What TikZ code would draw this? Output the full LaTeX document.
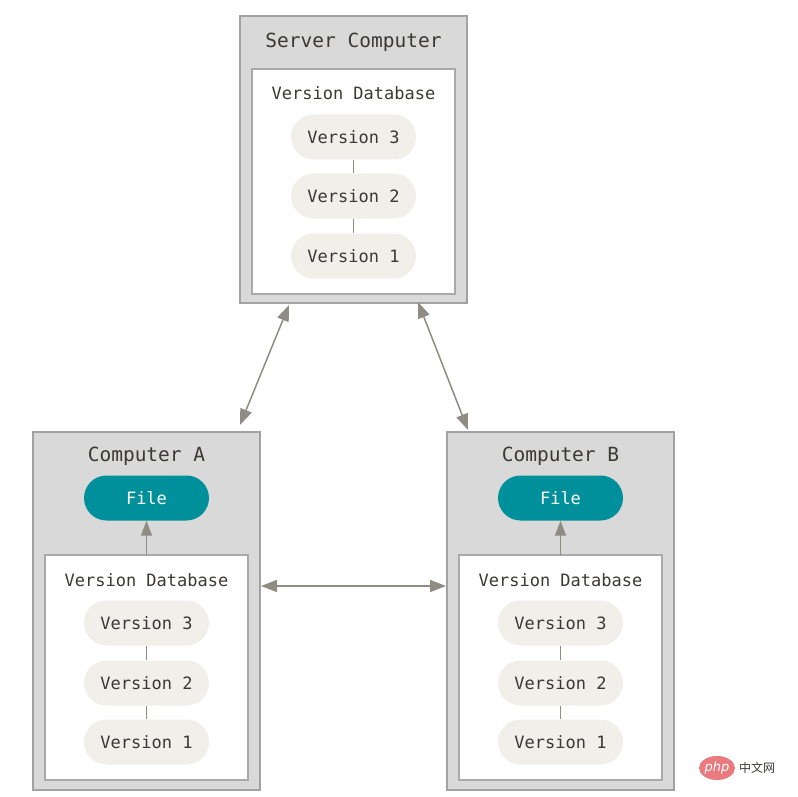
\documentclass[tikz,border=0pt]{standalone}
\usepackage{fontspec}
\setmonofont{DejaVu Sans Mono}
\newfontfamily\cjk{Noto Sans CJK SC}
\newfontfamily\wmfont{DejaVu Sans}
\usetikzlibrary{arrows.meta,shapes.geometric}
\definecolor{outerfill}{HTML}{D9D9D9}
\definecolor{outerline}{HTML}{A2A2A2}
\definecolor{innerline}{HTML}{A9A9A9}
\definecolor{pillfill}{HTML}{F0EFEA}
\definecolor{txt}{HTML}{3B3935}
\definecolor{arrowc}{HTML}{8E8C83}
\definecolor{teal}{HTML}{00909B}
\definecolor{wmpink}{HTML}{E97A7E}
\tikzset{
  outerbox/.style={draw=outerline, fill=outerfill, line width=1.5pt},
  innerbox/.style={draw=innerline, fill=white, line width=1.5pt},
  pill/.style={fill=pillfill, rounded corners=22.5pt, minimum width=125pt, minimum height=45pt, inner sep=0pt, text=txt, font=\ttfamily\fontsize{17}{20}\selectfont},
  filepill/.style={pill, fill=teal, text=white},
  title/.style={text=txt, font=\ttfamily\fontsize{19.5}{23}\selectfont, inner sep=0pt},
  dbtitle/.style={text=txt, font=\ttfamily\fontsize{17}{20}\selectfont, inner sep=0pt},
  link/.style={draw=arrowc, line width=1.2pt},
  arr/.style={draw=arrowc, line width=1.5pt, {Triangle[length=16pt,width=12pt]}-{Triangle[length=16pt,width=12pt]}},
  uarr/.style={draw=arrowc, line width=1.5pt, -{Triangle[length=15pt,width=11pt]}}
}
\begin{document}
\begin{tikzpicture}[x=1pt,y=-1pt]
\useasboundingbox (0,0) rectangle (798,797);
% Server
\draw[outerbox] (240,16) rectangle (467,303);
\draw[innerbox] (252,69) rectangle (455,294);
\node[title] (st) at (353.5,42.5) {Server Computer};
\node[dbtitle] (sdb) at (353.5,93) {Version Database};
\node[pill] (s3) at (353.5,137) {Version 3};
\node[pill] (s2) at (353.5,196) {Version 2};
\node[pill] (s1) at (353.5,256) {Version 1};
\draw[link] (s3) -- (s2);
\draw[link] (s2) -- (s1);
\coordinate (sbl) at (289,305);
\coordinate (sbr) at (418,302);
% Computer A
\draw[outerbox] (33,432) rectangle (260,790);
\draw[innerbox] (45,555) rectangle (248,780);
\node[title] (at) at (146.5,456) {Computer A};
\node[filepill] (af) at (146.5,498) {File};
\node[dbtitle] (adb) at (146.5,580) {Version Database};
\node[pill] (a3) at (146.5,623) {Version 3};
\node[pill] (a2) at (146.5,683) {Version 2};
\node[pill] (a1) at (146.5,742) {Version 1};
\draw[link] (a3) -- (a2);
\draw[link] (a2) -- (a1);
\coordinate (ain) at (146.5,555);
\coordinate (atop) at (240,425);
\coordinate (aright) at (261,586);
% Computer B
\draw[outerbox] (447,432) rectangle (674,790);
\draw[innerbox] (459,555) rectangle (662,780);
\node[title] (bt) at (560.5,456) {Computer B};
\node[filepill] (bf) at (560.5,498) {File};
\node[dbtitle] (bdb) at (560.5,580) {Version Database};
\node[pill] (b3) at (560.5,623) {Version 3};
\node[pill] (b2) at (560.5,683) {Version 2};
\node[pill] (b1) at (560.5,742) {Version 1};
\draw[link] (b3) -- (b2);
\draw[link] (b2) -- (b1);
\coordinate (bin) at (560.5,555);
\coordinate (btop) at (468,430);
\coordinate (bleft) at (446,586);
% arrows
\draw[arr] (sbl) -- (atop);
\draw[arr] (sbr) -- (btop);
\draw[arr] (aright) -- (bleft);
\draw[uarr] (ain) -- (af.south);
\draw[uarr] (bin) -- (bf.south);
% watermark
\node[fill=wmpink, ellipse, minimum width=36pt, minimum height=24pt, inner sep=0pt, text=white, font=\wmfont\itshape\fontsize{13}{14}\selectfont] (wm) at (717,768) {php};
\node[anchor=west, text=txt, font=\cjk\fontsize{12}{14}\selectfont, inner sep=0pt] (wmt) at (739,768) {中文网};
\end{tikzpicture}
\end{document}
